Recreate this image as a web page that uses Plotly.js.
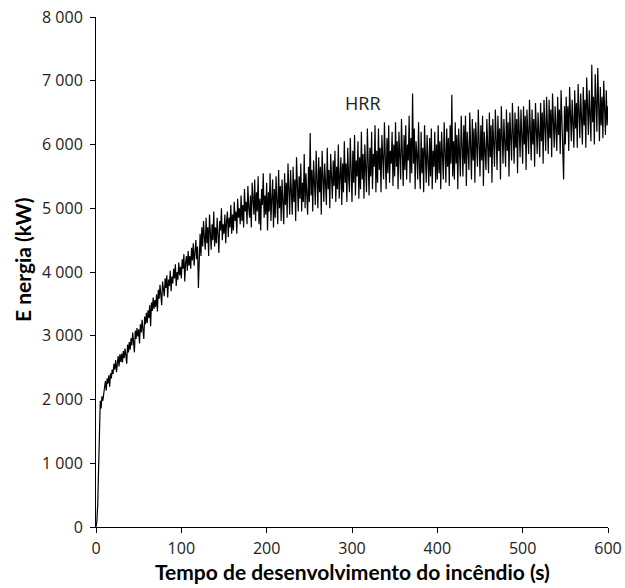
<!DOCTYPE html>
<html>
<head>
<meta charset="utf-8">
<script src="https://cdn.plot.ly/plotly-3.0.1.min.js"></script>
<style>html,body{margin:0;padding:0;background:#fff}#chart{width:625px;height:588px}</style>
</head>
<body>
<div id="chart"></div>
<script>
// HRR (kW), one sample per second, t = 0 ... 600 s
const hrrValues = [
0, 90, 350, 900, 1600, 1980, 1860, 2050, 1980, 2120,
2180, 2290, 2140, 2330, 2250, 2380, 2200, 2410, 2330, 2470,
2400, 2560, 2470, 2620, 2430, 2580, 2680, 2520, 2710, 2590,
2720, 2580, 2760, 2650, 2800, 2690, 2560, 2860, 2740, 2900,
2780, 2960, 2850, 3050, 2900, 2740, 3080, 2950, 3120, 2990,
3100, 2880, 3180, 3050, 3250, 3120, 2950, 3300, 3180, 3360,
3200, 3400, 3280, 3480, 3150, 3520, 3390, 3600, 3420, 3560,
3450, 3650, 3380, 3720, 3580, 3800, 3550, 3480, 3850, 3700,
3620, 3900, 3750, 3950, 3600, 3880, 3780, 4020, 3700, 3930,
3820, 4050, 3900, 4120, 3780, 4000, 3880, 4150, 3950, 4080,
3900, 4200, 4050, 4280, 3850, 4150, 4250, 4020, 4330, 4100,
4250, 4050, 4380, 4180, 4450, 4100, 4320, 4500, 4200, 4400,
3750, 4450, 4600, 4250, 4700, 4400, 4800, 4550, 4350, 4850,
4450, 4700, 4250, 4900, 4600, 4350, 4750, 4500, 4950, 4400,
4700, 4450, 4850, 4550, 4300, 4800, 4650, 5000, 4500, 4750,
4600, 4900, 4450, 4800, 4950, 4550, 4850, 4700, 5050, 4600,
4900, 4650, 5100, 4800, 4950, 4600, 5150, 4850, 5000, 4750,
5200, 4800, 5050, 4700, 5300, 4950, 5100, 4750, 5350, 5000,
4850, 5200, 4700, 5400, 5050, 4900, 5450, 4800, 5250, 4950,
5500, 4750, 5150, 4650, 5300, 5050, 5550, 4850, 5200, 4900,
5400, 4650, 5250, 4950, 5550, 4800, 5150, 5450, 4700, 5300,
4850, 5500, 5100, 4750, 5600, 5000, 5350, 4800, 5450, 5150,
4750, 5550, 5050, 5400, 4850, 5700, 5150, 4900, 5600, 5250,
4900, 5650, 5100, 5450, 4800, 5800, 5300, 4950, 5500, 5150,
5700, 4950, 5400, 5100, 5850, 5000, 5550, 5250, 4900, 5650,
5100, 6180, 5200, 5600, 4950, 5750, 5300, 5050, 5900, 5400,
5000, 5800, 5250, 5650, 4900, 5900, 5350, 5100, 5700, 5450,
5050, 5950, 5300, 5600, 5000, 5850, 5450, 5150, 5750, 5350,
5900, 5100, 5650, 5300, 6000, 5150, 5500, 5800, 5050, 5700,
5250, 6050, 5400, 5700, 5100, 5950, 5500, 5250, 6100, 5450,
5100, 5900, 5400, 6150, 5200, 5750, 5500, 6050, 5150, 5800,
5300, 6200, 5450, 5850, 5150, 6000, 5600, 5250, 6250, 5550,
5200, 5950, 5500, 6200, 5300, 5850, 5650, 6300, 5250, 5900,
5400, 6250, 5600, 5950, 5250, 6150, 5750, 5450, 6350, 5650,
5300, 6100, 5550, 6300, 5400, 5900, 5700, 6200, 5350, 6000,
5500, 6350, 5650, 6050, 5300, 6200, 5800, 5450, 6400, 5700,
5350, 6150, 5600, 6300, 5450, 6000, 5750, 6450, 5400, 6100,
5550, 6800, 5700, 6250, 5300, 6050, 5850, 5450, 6350, 5650,
5300, 6200, 5550, 5950, 5250, 6300, 5700, 5400, 6150, 5600,
5350, 6100, 5500, 6250, 5300, 5900, 5650, 6200, 5400, 6000,
5450, 6300, 5550, 6050, 5300, 6200, 5750, 5450, 6350, 5650,
5400, 6250, 5650, 6100, 5350, 6300, 5700, 6780, 5500, 6050,
5450, 6350, 5700, 6150, 5300, 6250, 5850, 5500, 6450, 5750,
5500, 6300, 5700, 6450, 5350, 6200, 5900, 5600, 6500, 5800,
5450, 6400, 5750, 6250, 5400, 6350, 5900, 5650, 6550, 5800,
5500, 6300, 5750, 6450, 5350, 6200, 5950, 5600, 6400, 5850,
5550, 6500, 5800, 6300, 5400, 6400, 6000, 5650, 6550, 5850,
5600, 6450, 5900, 6250, 5450, 6600, 6050, 5700, 6400, 5950,
5650, 6550, 5900, 6350, 5500, 6500, 6100, 5750, 6650, 5950,
5700, 6500, 5950, 6400, 5550, 6600, 6150, 5800, 6550, 6000,
5700, 6600, 6000, 6450, 5600, 6550, 6200, 5850, 6700, 6050,
5750, 6550, 6000, 6400, 5650, 6650, 6250, 5850, 6500, 6100,
5800, 6650, 6050, 6500, 5700, 6700, 6300, 5900, 6750, 6150,
5850, 6700, 6100, 6550, 5800, 6800, 6350, 5950, 6600, 6200,
5900, 6750, 6150, 6550, 5850, 6850, 6300, 6000, 5450, 6600,
6000, 6750, 6200, 6600, 5900, 6900, 6350, 6050, 6700, 6250,
5950, 6850, 6250, 6650, 5950, 6950, 6400, 6100, 6800, 6300,
6000, 6900, 6300, 6700, 5950, 7050, 6450, 6150, 6850, 6350,
6050, 7250, 6350, 6750, 6000, 7100, 6500, 6200, 7200, 6400,
6050, 6900, 6300, 6750, 6100, 7000, 6450, 6150, 6850, 6300, 6600
];
const sampleStep = 1; // seconds between samples
const timeValues = hrrValues.map((_, i) => i * sampleStep);

const xTickVals = [0, 100, 200, 300, 400, 500, 600];
const xTickText = ["0", "100", "200", "300", "400", "500", "600"];
const yTickVals = [0, 1000, 2000, 3000, 4000, 5000, 6000, 7000, 8000];
const yTickText = ["0", "1 000", "2 000", "3 000", "4 000", "5 000", "6 000", "7 000", "8 000"];

const seriesLabel = "HRR";
const xTitle = "Tempo de desenvolvimento do incêndio (s)";
const yTitle = "E nergia (kW)";

const TICKFONT = "'Open Sans', sans-serif";
const TITLEFONT = "Lato, 'Open Sans', sans-serif";

const trace = {
  x: timeValues,
  y: hrrValues,
  type: "scatter",
  mode: "lines",
  line: {color: "#000000", width: 1.2},
  hoverinfo: "skip",
  showlegend: false
};

const layout = {
  width: 625, height: 588,
  margin: {l: 96, r: 17, t: 17, b: 61},
  paper_bgcolor: "#ffffff",
  plot_bgcolor: "#ffffff",
  font: {family: TICKFONT, size: 16, color: "#222222"},
  showlegend: false,
  xaxis: {
    range: [0, 600],
    tickvals: xTickVals, ticktext: xTickText,
    ticks: "outside", ticklen: 5, tickwidth: 1, tickcolor: "#000",
    ticklabelstandoff: 2,
    showline: true, linecolor: "#000", linewidth: 1,
    showgrid: false, zeroline: false,
    tickfont: {family: TICKFONT, size: 16, color: "#222"}
  },
  yaxis: {
    range: [0, 8000],
    tickvals: yTickVals, ticktext: yTickText,
    ticks: "outside", ticklen: 5, tickwidth: 1, tickcolor: "#000",
    ticklabelstandoff: 4,
    showline: true, linecolor: "#000", linewidth: 1,
    showgrid: false, zeroline: false,
    tickfont: {family: TICKFONT, size: 16, color: "#222"}
  },
  annotations: [
    {
      x: 313, y: 6650, xref: "x", yref: "y",
      text: seriesLabel, showarrow: false,
      font: {family: TICKFONT, size: 18, color: "#222"}
    },
    {
      x: 0.5, y: -0.088, xref: "paper", yref: "paper",
      xanchor: "center", yanchor: "middle",
      text: "<b>" + xTitle + "</b>", showarrow: false,
      font: {family: TITLEFONT, size: 21, color: "#000"}
    },
    {
      x: -0.1445, y: 0.5235, xref: "paper", yref: "paper",
      xanchor: "center", yanchor: "middle", textangle: -90,
      text: "<b>" + yTitle + "</b>", showarrow: false,
      font: {family: TITLEFONT, size: 21, color: "#000"}
    }
  ]
};

Plotly.newPlot("chart", [trace], layout, {displayModeBar: false, staticPlot: true});
</script>
</body>
</html>
